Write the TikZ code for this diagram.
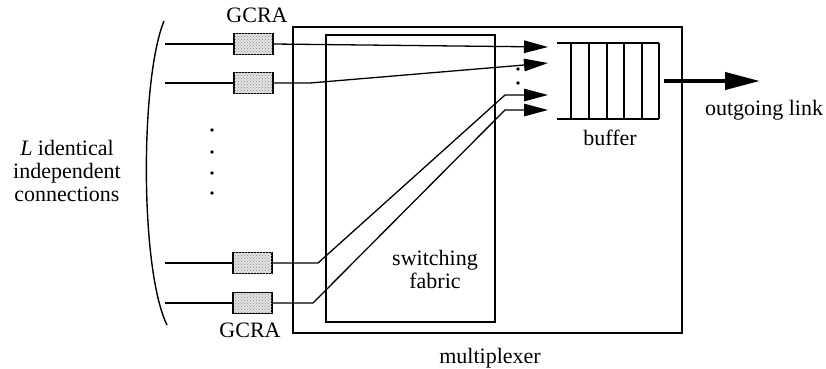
\documentclass[tikz,border=0pt]{standalone}
\usepackage{fontspec}
\setmainfont{Liberation Serif}
\usetikzlibrary{arrows.meta,patterns}
\begin{document}
\begin{tikzpicture}[x=1pt,y=-1pt,
  every node/.style={font=\fontsize{22}{24}\selectfont, inner sep=0pt},
  gcra/.style={draw, line width=1.2pt, fill=gray!22,
               postaction={pattern=crosshatch dots, pattern color=gray!90},
               minimum width=39pt, minimum height=21pt},
  wire/.style={line width=1.3pt},
  frame/.style={draw, line width=1.3pt},
  inarrow/.style={wire, -{Triangle[length=24pt,width=12.5pt]}},
  outarrow/.style={line width=4pt, -{Triangle[length=35pt,width=17pt]}},
  label/.style={anchor=base}
]
\useasboundingbox (0,0) rectangle (826,368);

% multiplexer and switching fabric frames
\draw[frame] (293,27) rectangle (682,333);
\draw[frame] (326,35) rectangle (495,322);

% GCRA shapers
\node[gcra] (g1) at (253.5,44) {};
\node[gcra] (g2) at (253.5,83) {};
\node[gcra] (g3) at (252.5,263) {};
\node[gcra] (g4) at (252.5,303) {};

% connection inputs
\coordinate (i1) at (165,44);
\coordinate (i2) at (165,83);
\coordinate (i3) at (165,263);
\coordinate (i4) at (165,303);
\foreach \k in {1,2,3,4} \draw[wire] (i\k) -- (g\k.west);

% routing through the fabric to the buffer inputs
\coordinate (a1) at (548,47);
\coordinate (a2) at (548,63);
\coordinate (a3) at (548,95);
\coordinate (a4) at (548,110);
\coordinate (b2) at (310,83);
\coordinate (b3) at (318,263);
\coordinate (c3) at (505,95);
\coordinate (b4) at (313,303);
\coordinate (c4) at (505,110);
\draw[inarrow] (g1.east) -- (a1);
\draw[inarrow] (g2.east) -- (b2) -- (a2);
\draw[inarrow] (g3.east) -- (b3) -- (c3) -- (a3);
\draw[inarrow] (g4.east) -- (b4) -- (c4) -- (a4);

% dots between the arrows and between the connections
\foreach \y in {69,83} \fill (518,\y) circle (1.9pt);
\foreach \y in {130,152,173,193} \fill (212,\y) circle (1.9pt);

% buffer
\draw[wire] (557,43) -- (659,43);
\draw[wire] (557,119) -- (659,119);
\foreach \x in {571,589,607,624,642,659} \draw[wire] (\x,43) -- (\x,119);

% outgoing link
\coordinate (o1) at (664,81);
\coordinate (o2) at (760,81);
\draw[outarrow] (o1) -- (o2);

% bracket grouping the connections
\coordinate (p1) at (164,21);
\coordinate (p2) at (167,325);
\draw[line width=1.4pt] (p1) .. controls (140,80) and (140,270) .. (p2);

% labels
\node[label] (t1) at (257,22) {GCRA};
\node[label] (t2) at (250,337) {GCRA};
\node[label] (t3) at (490,363) {multiplexer};
\node[label] (t4) at (610,145) {buffer};
\node[label] (t5) at (764,115) {outgoing link};
\node[label, align=center] (t6) at (435,288) {switching\\[-1pt]fabric};
\node[label] (t7) at (67,155) {\textit{L} identical};
\node[label] (t8) at (67,178) {independent};
\node[label] (t9) at (67,201) {connections};
\end{tikzpicture}
\end{document}
